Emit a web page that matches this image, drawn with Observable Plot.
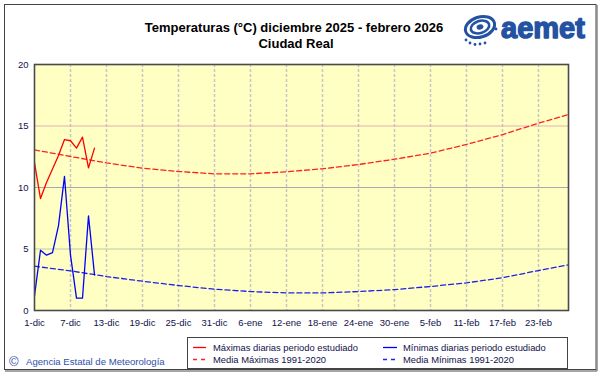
<!DOCTYPE html>
<html><head><meta charset="utf-8">
<script src="https://cdn.jsdelivr.net/npm/d3@7"></script>
<script src="https://cdn.jsdelivr.net/npm/@observablehq/plot@0.6"></script>
<style>
body{margin:0;background:#fff;}
#wrap{position:relative;width:601px;height:374px;overflow:hidden;background:#fff;}
#wrap > svg{position:absolute;left:0;top:0;}
</style></head><body><div id="wrap"></div>
<script>
// Tick labels (every 6 days from 1 December 2025)
const tickLabels = ["1-dic","7-dic","13-dic","19-dic","25-dic","31-dic","6-ene","12-ene","18-ene","24-ene","30-ene","5-feb","11-feb","17-feb","23-feb"];
const tickDays = [0,6,12,18,24,30,36,42,48,54,60,66,72,78,84];
const lastDay = 89; // 28-feb

// Daily observed values (day index from 1-dic)
const dailyDays = [0,1,2,3,4,5,6,7,8,9,10];
const maxDaily = [12.0,9.1,10.4,11.5,12.6,13.9,13.8,13.2,14.1,11.6,13.2];
const minDaily = [1.2,4.9,4.5,4.7,6.9,10.9,4.5,1.0,1.0,7.7,2.9];

// Climatological means 1991-2020
const meanDays = [0,6,12,18,24,30,36,42,48,54,60,66,72,78,84,89];
const meanMax = [13.06,12.52,12.0,11.57,11.3,11.11,11.11,11.28,11.52,11.87,12.3,12.79,13.5,14.3,15.23,15.93];
const meanMin = [3.6,3.22,2.76,2.38,2.03,1.73,1.54,1.43,1.43,1.54,1.7,1.95,2.25,2.66,3.25,3.71];

const yTicks = [0,5,10,15,20];
const gridValues = [5,10,15];
const gridColors = ["#bccba6","#a6a6b4","#e0b2b2"];

const title1 = "Temperaturas (°C) diciembre 2025 - febrero 2026";
const title2 = "Ciudad Real";
const legendLabels = ["Máximas diarias periodo estudiado","Media Máximas 1991-2020","Mínimas diarias periodo estudiado","Media Mínimas 1991-2020"];
const creditText = "Agencia Estatal de Meteorología";

const daily = dailyDays.map((d,i)=>({d, max:maxDaily[i], min:minDaily[i]}));
const means = meanDays.map((d,i)=>({d, max:meanMax[i], min:meanMin[i]}));
const grid = gridValues.map((v,i)=>({v, c:gridColors[i]}));

const chart = Plot.plot({
  width: 601, height: 374,
  marginLeft: 34, marginRight: 33, marginTop: 64, marginBottom: 64,
  style: {fontFamily: "'Liberation Sans', Arial, sans-serif", fontSize: "9.5px", color: "#12124a", background: "transparent"},
  x: {domain: [0, lastDay], ticks: tickDays, tickFormat: d => tickLabels[tickDays.indexOf(d)], tickSize: 0, tickPadding: 9, label: null},
  y: {domain: [0, 20], ticks: yTicks, tickSize: 0, tickPadding: 6, label: null},
  marks: [
    Plot.frame({fill: "#ffffc4", stroke: null}),
    Plot.ruleX(tickDays.slice(1), {stroke: "#c6c6c0", strokeWidth: 1.5, strokeDasharray: "3,2"}),
    Plot.ruleY(grid, {y: "v", stroke: d => d.c, strokeWidth: 1.2}),
    Plot.line(means, {x: "d", y: "max", stroke: "#ff2020", strokeWidth: 1.3, strokeDasharray: "5,3"}),
    Plot.line(means, {x: "d", y: "min", stroke: "#2020e8", strokeWidth: 1.3, strokeDasharray: "5,3"}),
    Plot.line(daily, {x: "d", y: "max", stroke: "#ff0000", strokeWidth: 1.3}),
    Plot.line(daily, {x: "d", y: "min", stroke: "#0000ff", strokeWidth: 1.3}),
    Plot.frame({stroke: "#4a4a4a", strokeWidth: 1.6})
  ]
});
document.getElementById("wrap").appendChild(chart);

// Overlay: frame, title, logo, legend, credit
const ns = "http://www.w3.org/2000/svg";
const ov = document.createElementNS(ns, "svg");
ov.setAttribute("width", 601); ov.setAttribute("height", 374);
ov.style.fontFamily = "'Liberation Sans', Arial, sans-serif";
ov.style.pointerEvents = "none";
document.getElementById("wrap").appendChild(ov);
function el(tag, attrs, text) {
  const e = document.createElementNS(ns, tag);
  for (const k in attrs) e.setAttribute(k, attrs[k]);
  if (text != null) e.textContent = text;
  ov.appendChild(e);
  return e;
}
// outer frame
el("rect", {x: 4.5, y: 4.5, width: 591.5, height: 365, fill: "none", stroke: "#444", "stroke-width": 1});
el("line", {x1: 597, y1: 5, x2: 597, y2: 371, stroke: "#888", "stroke-width": 1.5});
el("line", {x1: 5, y1: 371, x2: 597, y2: 371, stroke: "#888", "stroke-width": 1.5});
// titles
el("text", {x: 294, y: 32, "text-anchor": "middle", "font-size": 13, "font-weight": "bold", fill: "#000"}, title1);
el("text", {x: 296, y: 47.5, "text-anchor": "middle", "font-size": 13, "font-weight": "bold", fill: "#000"}, title2);
// logo
const blue = "#2452a3";
const g = el("g", {transform: "rotate(-18 480 27)"});
[[15,10,3],[9.5,6,2.6]].forEach(([rx,ry,w]) => {
  const e = document.createElementNS(ns, "ellipse");
  e.setAttribute("cx", 480); e.setAttribute("cy", 27); e.setAttribute("rx", rx); e.setAttribute("ry", ry);
  e.setAttribute("fill", "none"); e.setAttribute("stroke", blue); e.setAttribute("stroke-width", w);
  g.appendChild(e);
});
const c0 = document.createElementNS(ns, "ellipse");
c0.setAttribute("cx", 480); c0.setAttribute("cy", 27); c0.setAttribute("rx", 3.5); c0.setAttribute("ry", 2.5); c0.setAttribute("fill", blue);
g.appendChild(c0);
[[466,40],[470,43],[475,44.5],[480,44],[485,43],[496,29]].forEach(([x,y]) => el("circle", {cx: x, cy: y, r: 1.4, fill: blue}));
el("text", {x: 501, y: 37.5, "font-size": 29, "font-weight": "bold", fill: blue, stroke: blue, "stroke-width": 1.4, "stroke-linejoin": "round", "letter-spacing": "0"}, "aemet");
// legend box
el("rect", {x: 187.5, y: 337.5, width: 380, height: 31, fill: "#fff", stroke: "#444", "stroke-width": 1});
el("line", {x1: 193, y1: 347.5, x2: 206, y2: 347.5, stroke: "#ff0000", "stroke-width": 1.3});
el("line", {x1: 193, y1: 359.5, x2: 206, y2: 359.5, stroke: "#ff2020", "stroke-width": 1.3, "stroke-dasharray": "4,4"});
el("line", {x1: 383, y1: 347.5, x2: 397, y2: 347.5, stroke: "#0000ff", "stroke-width": 1.3});
el("line", {x1: 383, y1: 359.5, x2: 397, y2: 359.5, stroke: "#2020e8", "stroke-width": 1.3, "stroke-dasharray": "4,4"});
const lx = [213, 213, 403, 403], ly = [351, 363, 351, 363];
legendLabels.forEach((t, i) => el("text", {x: lx[i], y: ly[i], "font-size": 9.4, fill: "#12124a"}, t));
// credit
el("text", {x: 9, y: 365.5, "font-size": 13, fill: "#3050a8"}, "©");
el("text", {x: 26, y: 364.5, "font-size": 9.6, fill: "#3050a8"}, creditText);
</script></body></html>
